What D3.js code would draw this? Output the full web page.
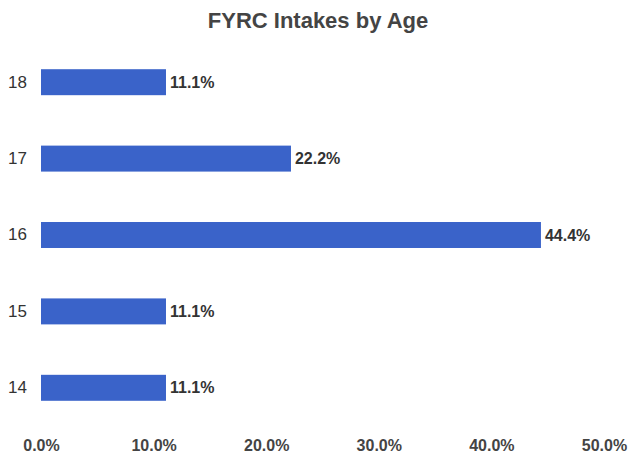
<!DOCTYPE html>
<html>
<head>
<meta charset="utf-8">
<script src="https://cdn.jsdelivr.net/npm/d3@7"></script>
<style>
  body { margin: 0; background: #fff; }
  text { font-family: Arial, "Liberation Sans", sans-serif; }
</style>
</head>
<body>
<div id="chart-area"></div>
<script>
const ages = ['18', '17', '16', '15', '14'];
const shares = [11.1, 22.2, 44.4, 11.1, 11.1];
const tickValues = [0, 10, 20, 30, 40, 50];

const widthSvg = 632;
const heightSvg = 458;
const margin = { top: 44, right: 28, bottom: 32, left: 41 };
const widthChart = widthSvg - margin.left - margin.right;

const svg = d3.select('#chart-area').append('svg')
  .attr('width', widthSvg)
  .attr('height', heightSvg);

const scaleX = d3.scaleLinear()
  .domain([0, 50])
  .range([0, widthChart]);

const scaleY = d3.scaleBand()
  .domain(ages)
  .range([0, 382])
  .paddingInner(0.66)
  .paddingOuter(0.33);

const chart = svg.append('g')
  .attr('transform', `translate(${margin.left}, ${margin.top})`);

// title
svg.append('text')
  .attr('x', 318)
  .attr('y', 28)
  .attr('text-anchor', 'middle')
  .attr('font-size', '22px')
  .attr('font-weight', 'bold')
  .attr('fill', '#444')
  .text('FYRC Intakes by Age');

const rows = ages.map((a, i) => ({ age: a, value: shares[i] }));

chart.selectAll('rect')
  .data(rows)
  .enter()
  .append('rect')
    .attr('x', 0)
    .attr('y', d => scaleY(d.age))
    .attr('width', d => scaleX(d.value))
    .attr('height', scaleY.bandwidth())
    .attr('fill', '#3a63c9');

chart.selectAll('.val')
  .data(rows)
  .enter()
  .append('text')
    .attr('class', 'val')
    .attr('x', d => scaleX(d.value) + 4)
    .attr('y', d => scaleY(d.age) + scaleY.bandwidth() / 2)
    .attr('dy', '0.35em')
    .attr('font-size', '16px')
    .attr('font-weight', 'bold')
    .attr('fill', '#333')
    .text(d => d.value.toFixed(1) + '%');

// category axis
const axisY = d3.axisLeft(scaleY).tickSize(0).tickPadding(14);
chart.append('g')
  .call(axisY)
  .call(g => g.select('.domain').remove())
  .selectAll('text')
    .attr('font-size', '17px')
    .attr('fill', '#333');

// value axis
const axisX = d3.axisBottom(scaleX)
  .tickValues(tickValues)
  .tickSize(0)
  .tickPadding(0)
  .tickFormat(d => d.toFixed(1) + '%');
chart.append('g')
  .attr('transform', `translate(0, 396)`)
  .call(axisX)
  .call(g => g.select('.domain').remove())
  .selectAll('text')
    .attr('font-size', '16px')
    .attr('font-weight', 'bold')
    .attr('fill', '#444');
</script>
</body>
</html>
